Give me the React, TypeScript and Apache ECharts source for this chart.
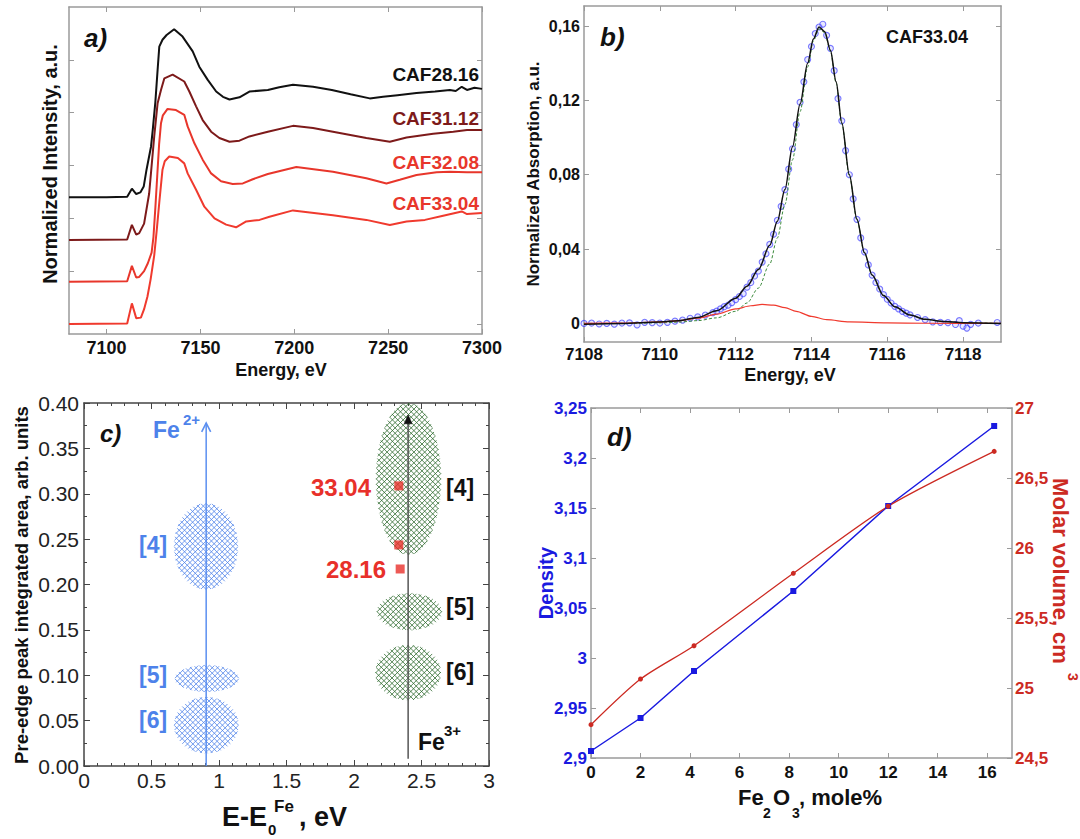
import React, { useEffect, useRef } from 'react';
import * as echarts from 'echarts';

const FONT = '"Liberation Sans", Arial, Helvetica, sans-serif';

// ---------- Panel a: XANES spectra (energy, eV / offset normalized intensity) ----------
const a28E = [7080, 7100, 7111, 7113.5, 7115.8, 7118, 7119.8, 7121.3, 7123.7, 7124.6, 7126, 7127.2, 7128.1, 7129.8, 7132, 7136, 7140.5, 7145.9, 7149.4, 7153.9, 7158.4, 7162, 7165.5, 7170.8, 7176.1, 7185.9, 7192, 7199.3, 7210, 7220, 7230, 7240.2, 7247.3, 7255, 7265.1, 7275, 7282.9, 7286, 7289.2, 7292, 7296, 7300];
const a28I = [2.40, 2.40, 2.41, 2.56, 2.46, 2.49, 2.60, 2.92, 3.36, 3.67, 4.20, 4.81, 5.25, 5.38, 5.47, 5.58, 5.44, 5.16, 4.87, 4.62, 4.40, 4.30, 4.25, 4.29, 4.40, 4.43, 4.48, 4.53, 4.49, 4.43, 4.35, 4.27, 4.30, 4.33, 4.37, 4.40, 4.43, 4.41, 4.49, 4.43, 4.47, 4.45];
const a31E = [7080, 7111, 7113.5, 7115.8, 7117.4, 7120, 7122.7, 7125.4, 7127.2, 7129, 7130.8, 7135.2, 7141.4, 7144.1, 7147.7, 7151.2, 7155.7, 7160.1, 7165.5, 7170.8, 7176.1, 7185.9, 7199.3, 7210, 7220.6, 7238.4, 7250.9, 7259.8, 7274, 7284.7, 7292, 7300];
const a31I = [1.59, 1.60, 1.875, 1.69, 1.72, 1.90, 2.47, 3.55, 4.18, 4.43, 4.65, 4.72, 4.59, 4.40, 4.12, 3.86, 3.64, 3.52, 3.45, 3.47, 3.55, 3.64, 3.75, 3.71, 3.64, 3.52, 3.45, 3.53, 3.60, 3.64, 3.67, 3.67];
const a32E = [7080, 7111, 7113.5, 7115.8, 7117.4, 7120, 7122, 7124, 7125, 7126, 7127, 7128, 7129, 7130, 7132.5, 7137, 7141.4, 7143.2, 7146.8, 7151.2, 7155.7, 7161, 7167.2, 7172.6, 7177.9, 7185.9, 7201.1, 7220.6, 7238.4, 7249.1, 7256.2, 7265.1, 7275.8, 7282.9, 7292, 7300];
const a32I = [0.80, 0.81, 1.10, 0.88, 0.89, 1.00, 1.15, 1.35, 1.65, 2.20, 2.80, 3.40, 3.80, 3.95, 4.07, 4.05, 3.96, 3.74, 3.42, 3.11, 2.85, 2.70, 2.65, 2.66, 2.74, 2.84, 2.97, 2.88, 2.76, 2.66, 2.73, 2.82, 2.87, 2.88, 2.87, 2.87];
const a33E = [7080, 7111, 7113.5, 7115.8, 7118.3, 7120, 7121.8, 7123.5, 7125.4, 7126.8, 7128.1, 7129.8, 7131, 7133.4, 7138, 7141.4, 7143.2, 7147.7, 7152.1, 7157.5, 7163.7, 7169, 7174.4, 7181.5, 7186.8, 7199.3, 7220.6, 7238.4, 7250.9, 7259.8, 7269.6, 7279.3, 7289.2, 7292, 7300];
const a33I = [0, 0.01, 0.39, 0.11, 0.12, 0.28, 0.52, 0.85, 1.30, 1.80, 2.30, 2.92, 3.08, 3.17, 3.14, 3.04, 2.85, 2.54, 2.22, 2.00, 1.88, 1.83, 1.94, 1.97, 2.03, 2.15, 2.06, 1.97, 1.875, 1.94, 1.97, 2.05, 2.13, 2.08, 2.10];
const aTicksX = [7100, 7150, 7200, 7250, 7300];
const aTicksY = [0, 1, 2, 3, 4, 5];
const aLabels = ['CAF28.16', 'CAF31.12', 'CAF32.08', 'CAF33.04'];

// ---------- Panel b: pre-edge fit ----------
const bDataE = [7108.0, 7108.2, 7108.4, 7108.6, 7108.8, 7109.0, 7109.2, 7109.4, 7109.6, 7109.8, 7110.0, 7110.2, 7110.4, 7110.6, 7110.8, 7111.0, 7111.2, 7111.4, 7111.5, 7111.6, 7111.7, 7111.8, 7111.9, 7112.0, 7112.1, 7112.2, 7112.3, 7112.4, 7112.5, 7112.6, 7112.7, 7112.8, 7112.9, 7113.0, 7113.1, 7113.2, 7113.3, 7113.4, 7113.5, 7113.6, 7113.7, 7113.8, 7113.9, 7114.0, 7114.1, 7114.2, 7114.3, 7114.4, 7114.5, 7114.6, 7114.7, 7114.8, 7114.9, 7115.0, 7115.1, 7115.2, 7115.3, 7115.4, 7115.5, 7115.6, 7115.7, 7115.8, 7115.9, 7116.0, 7116.1, 7116.2, 7116.3, 7116.4, 7116.5, 7116.6, 7116.8, 7117.0, 7117.2, 7117.4, 7117.6, 7117.8, 7117.9, 7118.0, 7118.1, 7118.2, 7118.4, 7118.9];
const bData = [0.000, 0.0002, -0.0003, 0.000, -0.0004, 0.0002, 0.0003, -0.0008, 0.0006, 0.0004, 0.0002, 0.0006, 0.0012, 0.0018, 0.0028, 0.0035, 0.0045, 0.0058, 0.0066, 0.0078, 0.009, 0.0098, 0.0112, 0.0128, 0.0145, 0.016, 0.0195, 0.022, 0.0255, 0.0282, 0.033, 0.0375, 0.0425, 0.048, 0.0555, 0.063, 0.072, 0.083, 0.094, 0.107, 0.119, 0.13, 0.142, 0.149, 0.156, 0.1595, 0.161, 0.155, 0.148, 0.136, 0.121, 0.109, 0.093, 0.080, 0.067, 0.056, 0.046, 0.0385, 0.0315, 0.026, 0.022, 0.0185, 0.0155, 0.013, 0.011, 0.0092, 0.0078, 0.0065, 0.0055, 0.0046, 0.0032, 0.002, 0.0008, 0.0006, 0.0004, -0.0006, 0.0015, -0.0015, -0.0025, -0.0005, 0.0002, 0.0005];
const bFitE = [7108, 7109, 7110, 7110.5, 7111, 7111.5, 7112, 7112.3, 7112.6, 7112.9, 7113.1, 7113.3, 7113.5, 7113.7, 7113.9, 7114.05, 7114.2, 7114.35, 7114.5, 7114.65, 7114.8, 7115.0, 7115.2, 7115.4, 7115.6, 7115.9, 7116.2, 7116.6, 7117, 7117.5, 7118, 7119];
const bFit = [-0.0005, 0.0, 0.0008, 0.0015, 0.0032, 0.0068, 0.0135, 0.020, 0.029, 0.042, 0.055, 0.072, 0.095, 0.118, 0.140, 0.153, 0.1595, 0.157, 0.147, 0.130, 0.108, 0.080, 0.056, 0.038, 0.026, 0.015, 0.009, 0.0045, 0.0022, 0.001, 0.0004, 0.0];
const bMain = [0, 0, 0.0003, 0.0007, 0.0015, 0.003, 0.0065, 0.011, 0.019, 0.032, 0.046, 0.064, 0.088, 0.114, 0.138, 0.152, 0.1585, 0.1565, 0.1465, 0.1295, 0.1075, 0.0795, 0.0557, 0.0378, 0.0259, 0.0149, 0.0089, 0.0045, 0.0022, 0.001, 0.0004, 0];
const bPreE = [7108, 7109, 7110, 7110.5, 7111, 7111.5, 7112, 7112.4, 7112.7, 7113, 7113.3, 7113.6, 7114, 7114.4, 7115, 7116, 7117, 7119];
const bPre = [0, 0.0002, 0.0008, 0.0015, 0.0028, 0.005, 0.0078, 0.0095, 0.0102, 0.0098, 0.0085, 0.0065, 0.0038, 0.002, 0.0008, 0.0003, 0.0001, 0];
const bTicksX = [7108, 7110, 7112, 7114, 7116, 7118];
const bTicksY = [0, 0.04, 0.08, 0.12, 0.16];

// ---------- Panel c: pre-edge area vs position ----------
const cFe2X = [0.904, 0.91, 0.906];
const cFe2Y = [0.242, 0.0964, 0.045];
const cFe2Rx = [0.236, 0.236, 0.238];
const cFe2Ry = [0.0475, 0.0147, 0.031];
const cFe3X = [2.404, 2.41, 2.401];
const cFe3Y = [0.3163, 0.17, 0.1029];
const cFe3Rx = [0.24, 0.24, 0.242];
const cFe3Ry = [0.0837, 0.0202, 0.0304];
const cSampleX = [2.332, 2.332, 2.342];
const cSampleY = [0.3087, 0.2436, 0.2171];
const cArrowX = [0.905, 2.401];
const cArrowY0 = [0, 0.008];
const cArrowY1 = [0.378, 0.387];

// ---------- Panel d: density / molar volume ----------
const dFe2O3 = [0, 2, 4.16, 8.17, 12, 16.28];
const dDensity = [2.907, 2.94, 2.987, 3.067, 3.152, 3.232];
const dMolarVolume = [24.738, 25.064, 25.302, 25.819, 26.298, 26.69];
const dTicksX = [0, 2, 4, 6, 8, 10, 12, 14, 16];
const dTicksDensity = [2.9, 2.95, 3, 3.05, 3.1, 3.15, 3.2, 3.25];
const dTicksMolar = [24.5, 25, 25.5, 26, 26.5, 27];

const zip = (xs: number[], ys: number[]) => xs.map((x, i) => [x, ys[i]]);
const comma = (v: number) => String(Math.round(v * 1000) / 1000).replace('.', ',');

function T(x: number, y: number, text: string, size: number, color: string, o: any = {}) {
  const align = o.align || 'left';
  return {
    type: 'text', x, y, rotation: o.rotation || 0, z: 100,
    style: {
      text, fill: color, fontSize: size, fontWeight: o.weight || 'bold',
      fontStyle: o.italic ? 'italic' : 'normal', fontFamily: FONT,
      align, verticalAlign: 'middle', textAlign: align, textVerticalAlign: 'middle',
    },
  };
}

function hatch(color: string) {
  return (params: any, api: any) => {
    const c = api.coord([api.value(0), api.value(1)]);
    const sz = api.size([api.value(2), api.value(3)]);
    const a = Math.abs(sz[0]);
    const b = Math.abs(sz[1]);
    const sp = 3.8;
    const A = (1 / (a * a) + 1 / (b * b)) / 2;
    const D = 1 / (a * a) - 1 / (b * b);
    const r = Math.SQRT1_2;
    const K = Math.ceil((Math.max(a, b) * 1.5) / sp);
    const children: any[] = [];
    for (let k = -K; k <= K; k++) {
      const s = k * sp;
      const B = s * D;
      const C = s * s * A - 1;
      const disc = B * B - 4 * A * C;
      if (disc <= 0) continue;
      const sq = Math.sqrt(disc);
      const t1 = (-B - sq) / (2 * A);
      const t2 = (-B + sq) / (2 * A);
      const st = { stroke: color, lineWidth: 0.8 };
      children.push({ type: 'line', shape: { x1: c[0] + (s + t1) * r, y1: c[1] + (t1 - s) * r, x2: c[0] + (s + t2) * r, y2: c[1] + (t2 - s) * r }, style: st });
      children.push({ type: 'line', shape: { x1: c[0] + (s + t1) * r, y1: c[1] + (s - t1) * r, x2: c[0] + (s + t2) * r, y2: c[1] + (s - t2) * r }, style: st });
    }
    return { type: 'group', children };
  };
}

function arrow(params: any, api: any) {
  const i = params.dataIndex;
  const p0 = api.coord([api.value(0), api.value(1)]);
  const p1 = api.coord([api.value(0), api.value(2)]);
  if (i === 0) {
    const col = '#5b8ff0';
    return {
      type: 'group', children: [
        { type: 'line', shape: { x1: p0[0], y1: p0[1], x2: p1[0], y2: p1[1] }, style: { stroke: col, lineWidth: 1.5 } },
        { type: 'polyline', shape: { points: [[p1[0] - 4.5, p1[1] + 9], [p1[0], p1[1]], [p1[0] + 4.5, p1[1] + 9]] }, style: { stroke: col, lineWidth: 1.6, fill: 'none' } },
      ],
    };
  }
  const col = '#555555';
  return {
    type: 'group', children: [
      { type: 'line', shape: { x1: p0[0], y1: p0[1], x2: p1[0], y2: p1[1] + 4 }, style: { stroke: col, lineWidth: 1.5 } },
      { type: 'polygon', shape: { points: [[p1[0] - 4, p1[1] + 9], [p1[0], p1[1]], [p1[0] + 4, p1[1] + 9]] }, style: { fill: '#111', stroke: '#111', lineWidth: 0.5 } },
    ],
  };
}

const grey = '#9a9a9a';

function frameX(gridIndex: number, min: number, max: number, pos: 'top' | 'bottom', ticks: number[] | null, label: any, tickLen = 5, lineColor = grey) {
  const ax: any = {
    type: 'value', gridIndex, min, max, position: pos,
    splitLine: { show: false },
    axisLine: { show: true, onZero: false, lineStyle: { color: lineColor, width: 1.5 } },
    axisTick: { show: true, inside: true, length: tickLen, lineStyle: { color: lineColor, width: 1 } },
    axisLabel: label ? { show: true, fontFamily: FONT, ...label } : { show: false },
  };
  if (ticks) {
    ax.axisTick.customValues = ticks;
    if (label) ax.axisLabel.customValues = ticks;
  }
  return ax;
}
function frameY(gridIndex: number, min: number, max: number, pos: 'left' | 'right', ticks: number[] | null, label: any, tickLen = 5, lineColor = grey) {
  const ax: any = {
    type: 'value', gridIndex, min, max, position: pos,
    splitLine: { show: false },
    axisLine: { show: true, onZero: false, lineStyle: { color: lineColor, width: 1.5 } },
    axisTick: { show: true, inside: true, length: tickLen, lineStyle: { color: lineColor, width: 1 } },
    axisLabel: label ? { show: true, fontFamily: FONT, ...label } : { show: false },
  };
  if (ticks) {
    ax.axisTick.customValues = ticks;
    if (label) ax.axisLabel.customValues = ticks;
  }
  return ax;
}

export default function App() {
  const ref = useRef<HTMLDivElement>(null);
  useEffect(() => {
    if (!ref.current) return;
    const chart = echarts.init(ref.current, undefined, { renderer: 'svg' });
    const gridBase = { containLabel: false, outerBoundsMode: 'none', show: false };

    const cX = (c: any) => ({
      type: 'value', gridIndex: 2, min: 0, max: 3, interval: 0.5, position: c.pos,
      splitLine: { show: false },
      axisLine: { show: true, onZero: false, lineStyle: { color: '#444', width: 1.5 } },
      axisTick: { show: true, inside: true, length: 6, lineStyle: { color: '#444' } },
      minorTick: { show: true, splitNumber: 5, length: 3, lineStyle: { color: '#444' } },
      axisLabel: c.label ? { show: true, fontFamily: FONT, fontSize: 21, color: '#222', margin: 4, formatter: (v: number) => String(v) } : { show: false },
    });
    const cY = (c: any) => ({
      type: 'value', gridIndex: 2, min: 0, max: 0.4, interval: 0.05, position: c.pos,
      splitLine: { show: false },
      axisLine: { show: true, onZero: false, lineStyle: { color: '#444', width: 1.5 } },
      axisTick: { show: true, inside: true, length: 6, lineStyle: { color: '#444' } },
      minorTick: { show: true, splitNumber: 2, length: 3, lineStyle: { color: '#444' } },
      axisLabel: c.label ? { show: true, fontFamily: FONT, fontSize: 21, color: '#222', margin: 5, formatter: (v: number) => v.toFixed(2) } : { show: false },
    });

    const boldLab = (size: number, color: string, margin: number, formatter: any) => ({ fontSize: size, fontWeight: 'bold', color, margin, formatter });

    const option: any = {
      animation: false,
      backgroundColor: '#ffffff',
      grid: [
        { ...gridBase, left: 69, top: 7, width: 413, height: 327 },
        { ...gridBase, left: 584, top: 6, width: 417, height: 336 },
        { ...gridBase, left: 84, top: 403, width: 405, height: 363 },
        { ...gridBase, left: 591, top: 408, width: 421, height: 350 },
      ],
      xAxis: [
        frameX(0, 7080, 7300, 'bottom', aTicksX, boldLab(18, '#111', 5, (v: number) => String(v))),
        frameX(0, 7080, 7300, 'top', aTicksX, null),
        frameX(1, 7108, 7119, 'bottom', bTicksX, boldLab(17, '#111', 4, (v: number) => String(v))),
        frameX(1, 7108, 7119, 'top', bTicksX, null),
        cX({ pos: 'bottom', label: true }),
        cX({ pos: 'top', label: false }),
        frameX(3, 0, 17, 'bottom', dTicksX, boldLab(17, '#111', 6, (v: number) => String(v))),
        frameX(3, 0, 17, 'top', dTicksX, null),
      ],
      yAxis: [
        frameY(0, -0.19, 6.0, 'left', aTicksY, null),
        frameY(0, -0.19, 6.0, 'right', aTicksY, null),
        frameY(1, -0.01, 0.1708, 'left', bTicksY, boldLab(16, '#111', 4, (v: number) => (v === 0 ? '0' : v.toFixed(2).replace('.', ',')))),
        frameY(1, -0.01, 0.1708, 'right', bTicksY, null),
        cY({ pos: 'left', label: true }),
        cY({ pos: 'right', label: false }),
        frameY(3, 2.9, 3.25, 'left', dTicksDensity, boldLab(17, '#1a1ae0', 4, comma)),
        frameY(3, 24.5, 27, 'right', dTicksMolar, boldLab(17, '#cc2a22', 3, comma)),
      ],
      series: [
        // panel a
        { type: 'line', xAxisIndex: 0, yAxisIndex: 0, data: zip(a28E, a28I), showSymbol: false, lineStyle: { color: '#111111', width: 2 } },
        { type: 'line', xAxisIndex: 0, yAxisIndex: 0, data: zip(a31E, a31I), showSymbol: false, lineStyle: { color: '#7d1a1a', width: 2 } },
        { type: 'line', xAxisIndex: 0, yAxisIndex: 0, data: zip(a32E, a32I), showSymbol: false, lineStyle: { color: '#e8362b', width: 2 } },
        { type: 'line', xAxisIndex: 0, yAxisIndex: 0, data: zip(a33E, a33I), showSymbol: false, lineStyle: { color: '#f03a2e', width: 2 } },
        // panel b
        { type: 'scatter', xAxisIndex: 2, yAxisIndex: 2, data: zip(bDataE, bData), symbol: 'circle', symbolSize: 6, itemStyle: { color: 'rgba(140,140,255,0.25)', borderColor: 'rgba(60,60,255,0.85)', borderWidth: 1.1 } },
        { type: 'line', xAxisIndex: 2, yAxisIndex: 2, data: zip(bFitE, bMain), showSymbol: false, smooth: 0.3, smoothMonotone: 'x', lineStyle: { color: '#3b8a3b', width: 1, type: [3, 2] } },
        { type: 'line', xAxisIndex: 2, yAxisIndex: 2, data: zip(bPreE, bPre), showSymbol: false, smooth: 0.3, smoothMonotone: 'x', lineStyle: { color: '#f03a2e', width: 1.2 } },
        { type: 'line', xAxisIndex: 2, yAxisIndex: 2, data: zip(bFitE, bFit), showSymbol: false, smooth: 0.3, smoothMonotone: 'x', lineStyle: { color: '#111111', width: 1.5 } },
        // panel c
        { type: 'custom', xAxisIndex: 4, yAxisIndex: 4, renderItem: hatch('#4d82ea'), data: cFe2X.map((x, i) => [x, cFe2Y[i], cFe2Rx[i], cFe2Ry[i]]), clip: true },
        { type: 'custom', xAxisIndex: 4, yAxisIndex: 4, renderItem: hatch('#2d6a2d'), data: cFe3X.map((x, i) => [x, cFe3Y[i], cFe3Rx[i], cFe3Ry[i]]), clip: true },
        { type: 'custom', xAxisIndex: 4, yAxisIndex: 4, renderItem: arrow, data: cArrowX.map((x, i) => [x, cArrowY0[i], cArrowY1[i]]) },
        { type: 'scatter', xAxisIndex: 4, yAxisIndex: 4, data: zip(cSampleX, cSampleY), symbol: 'rect', symbolSize: 9, itemStyle: { color: '#e8302a' }, z: 5 },
        // panel d
        { type: 'line', xAxisIndex: 6, yAxisIndex: 6, data: zip(dFe2O3, dDensity), symbol: 'rect', symbolSize: 6, itemStyle: { color: '#1a1ae0' }, lineStyle: { color: '#1a1ae0', width: 1.5 } },
        { type: 'line', xAxisIndex: 6, yAxisIndex: 7, data: zip(dFe2O3, dMolarVolume), symbol: 'circle', symbolSize: 5, smooth: 0.25, itemStyle: { color: '#cc2a22' }, lineStyle: { color: '#cc2a22', width: 1.3 } },
      ],
      graphic: [
        // panel a
        T(84, 38, 'a)', 26, '#111', { italic: true }),
        T(479, 74, aLabels[0], 19, '#111', { align: 'right' }),
        T(479, 118, aLabels[1], 19, '#7d1a1a', { align: 'right' }),
        T(479, 162, aLabels[2], 19, '#e8362b', { align: 'right' }),
        T(479, 203, aLabels[3], 19, '#e8362b', { align: 'right' }),
        T(50, 164, 'Normalized Intensity, a.u.', 20, '#111', { align: 'center', rotation: Math.PI / 2 }),
        T(281, 370, 'Energy, eV', 18, '#111', { align: 'center' }),
        // panel b
        T(600, 37, 'b)', 26, '#111', { italic: true }),
        T(886, 37, 'CAF33.04', 18, '#111'),
        T(533, 174, 'Normalized Absorption, a.u.', 17, '#111', { align: 'center', rotation: Math.PI / 2 }),
        T(790, 375, 'Energy, eV', 18, '#111', { align: 'center' }),
        // panel c
        T(100, 433, 'c)', 24, '#111', { italic: true }),
        T(153, 430, 'Fe', 23, '#4d82ea'),
        T(183, 419, '2+', 15, '#4d82ea'),
        T(139, 545, '[4]', 23, '#4d82ea'),
        T(139, 675, '[5]', 23, '#4d82ea'),
        T(139, 720, '[6]', 23, '#4d82ea'),
        T(371, 487, '33.04', 24, '#e8302a', { align: 'right' }),
        T(386, 569, '28.16', 24, '#e8302a', { align: 'right' }),
        T(446, 488, '[4]', 23, '#111'),
        T(446, 607, '[5]', 23, '#111'),
        T(446, 672, '[6]', 23, '#111'),
        T(418, 742, 'Fe', 23, '#111'),
        T(444, 730, '3+', 15, '#111'),
        T(21, 585, 'Pre-edge peak integrated area, arb. units', 18.5, '#111', { align: 'center', rotation: Math.PI / 2 }),
        T(222, 817, 'E-E', 27, '#111'),
        T(274, 806, 'Fe', 17, '#111'),
        T(268, 829, '0', 15, '#111'),
        T(299, 817, ', eV', 27, '#111'),
        // panel d
        T(607, 437, 'd)', 26, '#111', { italic: true }),
        T(546, 583, 'Density', 20, '#1a1ae0', { align: 'center', rotation: Math.PI / 2 }),
        T(1060, 571, 'Molar volume, cm', 22, '#cc2a22', { align: 'center', rotation: -Math.PI / 2 }),
        T(1073, 677, '3', 14, '#cc2a22', { align: 'center', rotation: -Math.PI / 2 }),
        T(738, 797, 'Fe', 22, '#111'),
        T(763, 813, '2', 14, '#111'),
        T(773, 797, 'O', 22, '#111'),
        T(792, 813, '3', 14, '#111'),
        T(799, 797, ', mole%', 22, '#111'),
      ],
    };
    chart.setOption(option);
    return () => chart.dispose();
  }, []);
  return <div ref={ref} style={{ position: 'absolute', left: 0, top: 0, width: 1080, height: 839, background: '#fff' }} />;
}
